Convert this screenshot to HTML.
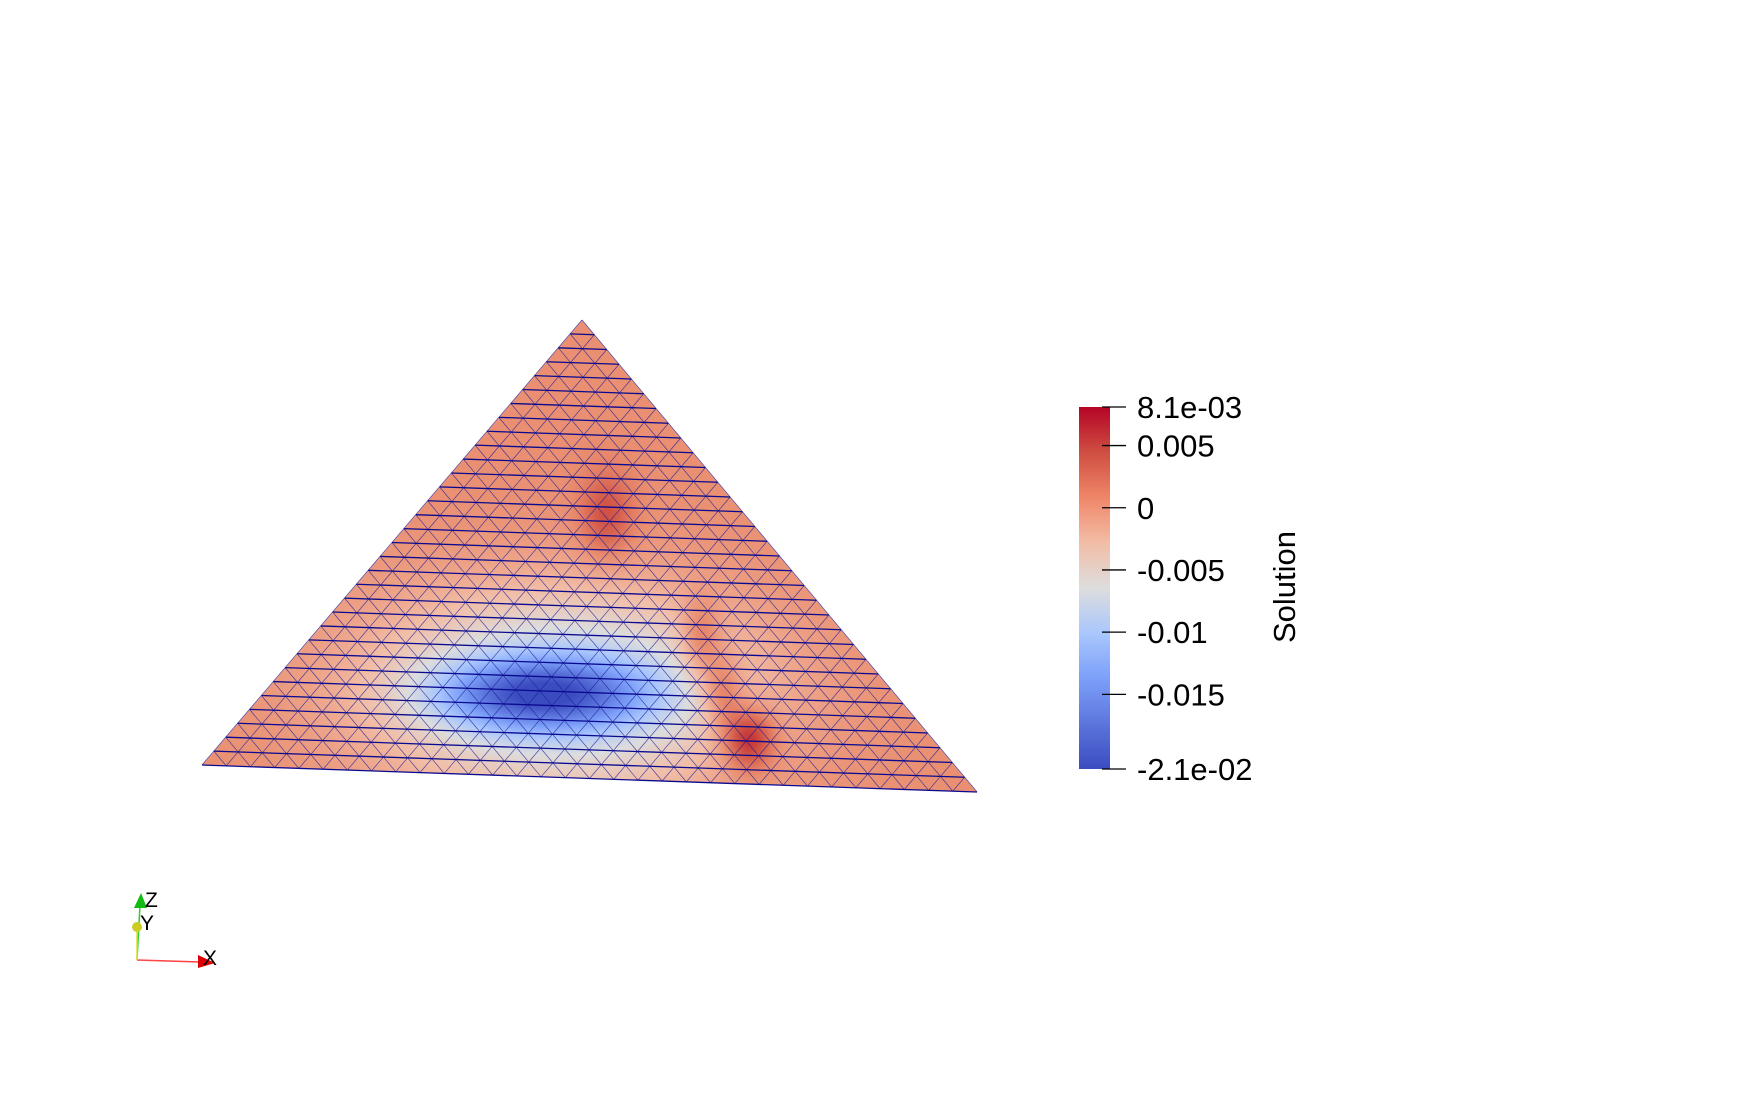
<!DOCTYPE html>
<html><head><meta charset="utf-8"><style>
html,body{margin:0;padding:0;background:#fff;width:1758px;height:1098px;overflow:hidden;font-family:"Liberation Sans",sans-serif}
#c{position:absolute;left:0;top:0}
svg{position:absolute;left:0;top:0}
</style></head><body>
<canvas id="c" width="1758" height="1098"></canvas>
<svg id="s" width="1758" height="1098">
  <g id="mesh"></g>
  <defs><linearGradient id="cg" x1="0" y1="1" x2="0" y2="0">
    <stop offset="0" stop-color="rgb(59,76,192)"/><stop offset="0.25" stop-color="rgb(124,159,249)"/>
    <stop offset="0.375" stop-color="rgb(170,199,253)"/><stop offset="0.5" stop-color="rgb(221,221,221)"/>
    <stop offset="0.625" stop-color="rgb(242,189,166)"/><stop offset="0.75" stop-color="rgb(239,134,104)"/>
    <stop offset="0.875" stop-color="rgb(207,78,65)"/><stop offset="1" stop-color="rgb(180,4,38)"/>
  </linearGradient></defs>
  <rect x="1079" y="407" width="31" height="362" fill="url(#cg)"/>
  <g id="ticks"></g>
  <text x="1295" y="587" font-size="31" fill="#000" text-anchor="middle" transform="rotate(-90 1295 587)">Solution</text>
  <g>
    <line x1="137" y1="960" x2="200" y2="962" stroke="#f44" stroke-width="1.5"/>
    <polygon points="198,955 215,963 198,968" fill="#d00"/>
    <line x1="137" y1="960" x2="140" y2="905" stroke="#3c3" stroke-width="1.5"/>
    <line x1="137" y1="960" x2="137" y2="930" stroke="#dd3" stroke-width="1.5"/>
    <polygon points="134,908 141,893 147,908" fill="#1b1"/>
    <circle cx="137" cy="927" r="5" fill="#cc2"/>
    <text x="145" y="907" font-size="21">Z</text>
    <text x="140" y="930" font-size="21">Y</text>
    <text x="203" y="965" font-size="21">X</text>
  </g>
</svg>
<script>
// data
const tickValues=[0.0081,0.005,0,-0.005,-0.01,-0.015,-0.021];
const tickLabels=["8.1e-03","0.005","0","-0.005","-0.01","-0.015","-2.1e-02"];
const rangeMin=-0.021, rangeMax=0.0081;
const baseValue=0.0006;
const blobCx=[560,540,700,722,748,606];
const blobCy=[690,694,640,690,738,516];
const blobSx=[125,70,14,14,18,18];
const blobSy=[68,24,28,26,22,30];
const blobAmp=[-0.0105,-0.0125,0.0045,0.005,0.0075,0.004];

const A=[582,320],L=[202,765],R=[977,792],N=32;
const cbTop=407,cbBot=769;
function vy(v){return cbBot-(v-rangeMin)/(rangeMax-rangeMin)*(cbBot-cbTop);}
const stops=[[0,59,76,192],[0.25,124,159,249],[0.375,170,199,253],[0.5,221,221,221],[0.625,242,189,166],[0.75,233,140,110],[0.875,207,78,65],[1,180,4,38]];
function cmap(v){let t=(v-rangeMin)/(rangeMax-rangeMin);t=Math.max(0,Math.min(1,t));
 for(let i=1;i<stops.length;i++){if(t<=stops[i][0]){const a=stops[i-1],b=stops[i],f=(t-a[0])/(b[0]-a[0]);
 return [a[1]+f*(b[1]-a[1]),a[2]+f*(b[2]-a[2]),a[3]+f*(b[3]-a[3])];}}return stops[7].slice(1);}
function field(x,y){let v=baseValue;for(let i=0;i<blobCx.length;i++){const dx=(x-blobCx[i])/blobSx[i],dy=(y-blobCy[i])/blobSy[i];v+=blobAmp[i]*Math.exp(-0.5*(dx*dx+dy*dy));}return v;}
const cv=document.getElementById('c'),ctx=cv.getContext('2d');
const x0=195,x1=985,y0=315,y1=800,W=x1-x0,H=y1-y0;
const img=ctx.createImageData(W,H);
for(let y=0;y<H;y++)for(let x=0;x<W;x++){const c=cmap(field(x+x0,y+y0)),k=(y*W+x)*4;img.data[k]=c[0];img.data[k+1]=c[1];img.data[k+2]=c[2];img.data[k+3]=255;}
const off=document.createElement('canvas');off.width=W;off.height=H;off.getContext('2d').putImageData(img,0,0);
ctx.save();ctx.beginPath();ctx.moveTo(A[0],A[1]);ctx.lineTo(L[0],L[1]);ctx.lineTo(R[0],R[1]);ctx.closePath();ctx.clip();
ctx.drawImage(off,x0,y0);ctx.restore();
function P(i,j){return [L[0]+(R[0]-L[0])*i/N+(A[0]-L[0])*j/N, L[1]+(R[1]-L[1])*i/N+(A[1]-L[1])*j/N];}
const ns="http://www.w3.org/2000/svg";let d1="",d2="";
for(let j=0;j<=N;j++){const a=P(0,j),b=P(N-j,j);d1+=`M${a[0]},${a[1]}L${b[0]},${b[1]}`;}
for(let i=0;i<=N;i++){const a=P(i,0),b=P(i,N-i);d2+=`M${a[0]},${a[1]}L${b[0]},${b[1]}`;const c=P(0,i),e=P(i,0);d2+=`M${c[0]},${c[1]}L${e[0]},${e[1]}`;}
const mesh=document.getElementById('mesh');
const p1=document.createElementNS(ns,'path');p1.setAttribute('d',d1);p1.setAttribute('stroke','#0a0a90');p1.setAttribute('stroke-width','1.3');p1.setAttribute('fill','none');


const p2=document.createElementNS(ns,'path');p2.setAttribute('d',d2);p2.setAttribute('stroke','#1a1a9a');p2.setAttribute('stroke-width','0.7');p2.setAttribute('stroke-opacity','0.75');p2.setAttribute('fill','none');


mesh.appendChild(p2);mesh.appendChild(p1);
const tg=document.getElementById('ticks');
tickValues.forEach((v,i)=>{const y=vy(v);
 const l=document.createElementNS(ns,'line');l.setAttribute('x1',1102);l.setAttribute('x2',1126);l.setAttribute('y1',y);l.setAttribute('y2',y);l.setAttribute('stroke','#000');l.setAttribute('stroke-width','1.3');
 
 
 tg.appendChild(l);
 const t=document.createElementNS(ns,'text');t.setAttribute('x',1137);t.setAttribute('y',y+11);t.setAttribute('font-size','31');t.textContent=tickLabels[i];
 
 
 tg.appendChild(t);});
</script>
</body></html>
